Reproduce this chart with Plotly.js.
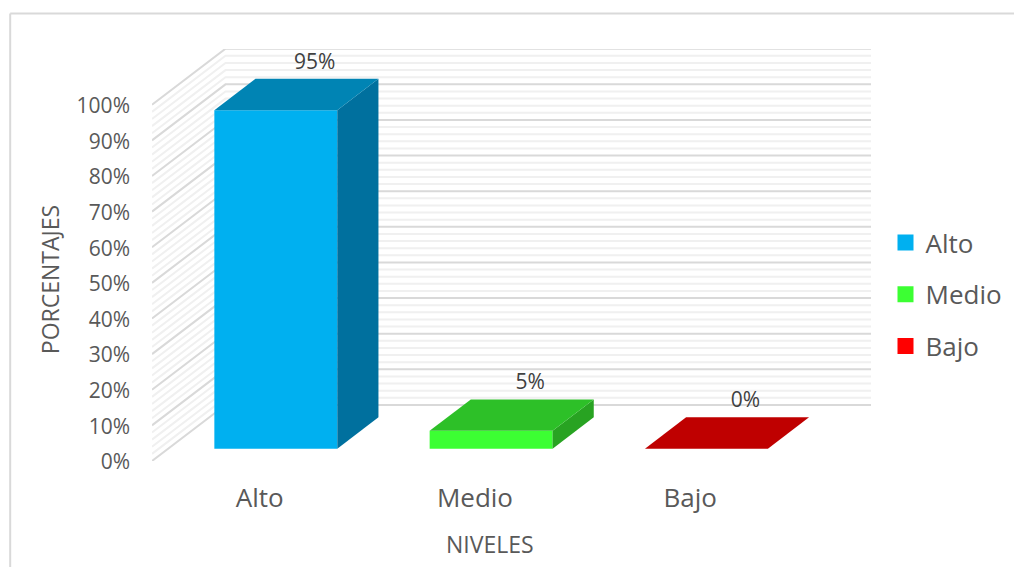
<!DOCTYPE html>
<html><head><meta charset="utf-8">
<script src="https://cdn.plot.ly/plotly-3.0.1.min.js"></script>
<style>html,body{margin:0;padding:0;background:#fff;overflow:hidden}#c{width:1014px;height:567px;display:block}</style>
</head><body><div id="c"></div>
<script>
const categorias = ['Alto','Medio','Bajo'];
const valores = [95,5,0];
const etiquetas = ['95%','5%','0%'];
const colorFrente = ['#00B0F0','#3CFF33','#FF0000'];
const colorArriba = ['#0084B4','#2DC028','#BF0000'];
const colorLado = ['#00709E','#28A322','#A00000'];
const marcasY = [0,10,20,30,40,50,60,70,80,90,100];
const menoresY = [2,4,6,8,12,14,16,18,22,24,26,28,32,34,36,38,42,44,46,48,52,54,56,58,62,64,66,68,72,74,76,78,82,84,86,88,92,94,96,98];

const W=1014,H=567;
const L=152,R=871,T=49,B=460.7;
const pxX=215.3, pxY=3.56;          // px per category, px per %
const DX=73.5/pxX, DY=56/pxY;       // oblique depth vector in axis units
const xMax=(R-L)/pxX, yMax=(B-T)/pxY;
const z0=0.22, z1=0.78, anchoBarra=0.571;
const alzaEtiqueta=5/pxY;
const textoGris='#595959';

const wall=(v,color,w)=>({type:'path',xref:'x',yref:'y',layer:'below',
  path:`M0,${v} L${DX},${v+DY} L${xMax},${v+DY}`,line:{color:color,width:w}});
const frameLine=(x0,y0,x1,y1)=>({type:'line',xref:'paper',yref:'paper',x0:fx(x0),x1:fx(x1),y0:fy(y0),y1:fy(y1),line:{color:'#d9d9d9',width:2}});
const fx=x=>(x-L)/(R-L), fy=y=>(B-y)/(B-T);

const data=[];
categorias.forEach((c,i)=>{
  const v=valores[i];
  const xl=i+0.5-anchoBarra/2, xr=i+0.5+anchoBarra/2;
  const P=(x,y,z)=>[x+z*DX,y+z*DY];
  const poly=(pts,color)=>({type:'scatter',mode:'lines',fill:'toself',fillcolor:color,
    x:pts.map(p=>p[0]),y:pts.map(p=>p[1]),line:{width:0,color:color},hoverinfo:'skip',showlegend:false});
  // front
  data.push({type:'bar',x:[i+0.5+z0*DX],y:[v],base:[z0*DY],width:[anchoBarra],name:c,
    marker:{color:colorFrente[i],line:{width:0}},showlegend:false,hovertemplate:c+': %{y}%<extra></extra>'});
  // side
  data.push(poly([P(xr,0,z0),P(xr,0,z1),P(xr,v,z1),P(xr,v,z0),P(xr,0,z0)],colorLado[i]));
  // top
  data.push(poly([P(xl,v,z0),P(xr,v,z0),P(xr,v,z1),P(xl,v,z1),P(xl,v,z0)],colorArriba[i]));
  // legend entry
  data.push({type:'scatter',mode:'markers',x:[null],y:[null],name:c,legendgroup:c,
    marker:{symbol:'square',size:16,color:colorFrente[i]},hoverinfo:'skip'});
});
// data labels, at centre of the back edge of each bar top
data.push({type:'scatter',mode:'text',
  x:categorias.map((c,i)=>i+0.5+(z1-0.03)*DX),
  y:valores.map(v=>v+z1*DY+alzaEtiqueta),
  text:etiquetas,textposition:'top center',textfont:{family:'Open Sans',size:21,color:'#404040'},
  hoverinfo:'skip',showlegend:false,cliponaxis:false});

const layout={
  width:W,height:H,paper_bgcolor:'#fff',plot_bgcolor:'rgba(0,0,0,0)',
  margin:{l:L,r:W-R,t:T,b:H-B,pad:0,autoexpand:false},
  barmode:'overlay',
  font:{family:'Open Sans',color:textoGris},
  xaxis:{type:'linear',range:[0,xMax],showgrid:false,zeroline:false,showline:false,
    tickmode:'array',tickvals:[0.5,1.5,2.5],ticktext:categorias,ticks:'',ticklabelstandoff:19,
    tickfont:{family:'Open Sans',size:26,color:textoGris},fixedrange:true},
  yaxis:{type:'linear',range:[0,yMax],showgrid:false,zeroline:false,showline:false,
    tickmode:'array',tickvals:marcasY,ticktext:marcasY.map(v=>v+'%'),ticks:'',ticklabelstandoff:21,ticklabelshift:1,
    tickfont:{family:'Open Sans',size:21,color:textoGris},fixedrange:true},
  legend:{x:fx(885.5),xanchor:'left',y:fy(219),yanchor:'top',font:{family:'Open Sans',size:26,color:textoGris},
    tracegroupgap:15,bgcolor:'rgba(0,0,0,0)',itemclick:false,itemdoubleclick:false},
  annotations:[
    {text:'PORCENTAJES',xref:'paper',yref:'paper',x:fx(50),y:fy(280),textangle:-90,showarrow:false,
      font:{family:'Open Sans',size:23,color:textoGris},xanchor:'center',yanchor:'middle'},
    {text:'NIVELES',xref:'paper',yref:'paper',x:fx(490),y:fy(544),showarrow:false,
      font:{family:'Open Sans',size:23,color:textoGris},xanchor:'center',yanchor:'middle'}
  ],
  shapes:[
    ...menoresY.map(v=>wall(v,'#f0f0f0',2)),
    ...marcasY.map(v=>wall(v,'#d9d9d9',2)),
    frameLine(10.2,13.5,1020,13.5),
    frameLine(10.2,13.5,10.2,570)
  ],
  showlegend:true
};
Plotly.newPlot('c',data,layout,{displayModeBar:false,responsive:false});
</script></body></html>
